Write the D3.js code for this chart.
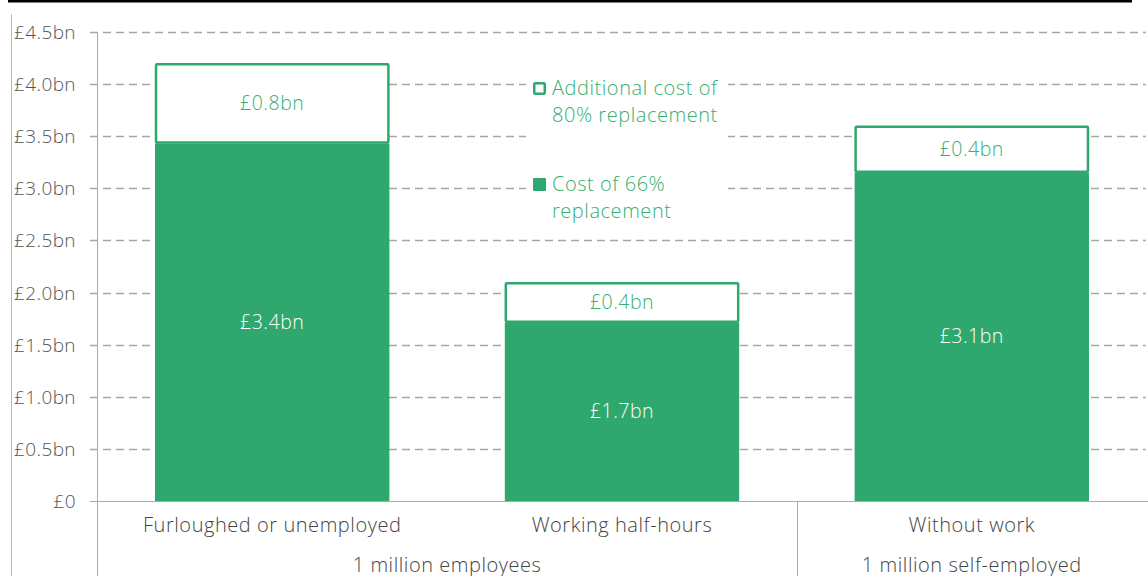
<!DOCTYPE html>
<html><head><meta charset="utf-8">
<script src="https://cdn.jsdelivr.net/npm/d3@7"></script>
<style>body{margin:0;background:#fff}svg{display:block}text{font-family:"Open Sans",Roboto,sans-serif;font-weight:300}</style>
</head><body><svg id="c" width="1148" height="576"></svg>
<script>
const categories = ["Furloughed or unemployed","Working half-hours","Without work"];
const groups = [{name:"1 million employees", cats:[0,1]},{name:"1 million self-employed", cats:[2]}];
const base66 = [3.44, 1.72, 3.16];
const extra80 = [0.76, 0.38, 0.44];
const baseLabels = ["£3.4bn","£1.7bn","£3.1bn"];
const extraLabels = ["£0.8bn","£0.4bn","£0.4bn"];
const yTicks = [0,0.5,1,1.5,2,2.5,3,3.5,4,4.5];
const yTickLabels = ["£0","£0.5bn","£1.0bn","£1.5bn","£2.0bn","£2.5bn","£3.0bn","£3.5bn","£4.0bn","£4.5bn"];
const legendItems = [{lines:["Additional cost of","80% replacement"], filled:false},{lines:["Cost of 66%","replacement"], filled:true}];

const green = "#2ea86f", textGreen = "#3aae72", grey = "#555";
const svg = d3.select("#c");
const x0 = 97, x1 = 1148, yTop = 32, yBot = 501;
const y = d3.scaleLinear().domain([0,4.5]).range([yBot,yTop]);
const x = d3.scaleBand().domain(d3.range(categories.length)).range([x0+1, x1-2]).paddingInner(0.33).paddingOuter(0.163);

// frame
svg.append("line").attr("x1",8).attr("x2",1132).attr("y1",1).attr("y2",1).attr("stroke","#000").attr("stroke-width",3);
svg.append("line").attr("x1",11.5).attr("x2",11.5).attr("y1",14).attr("y2",576).attr("stroke","#bbb").attr("stroke-width",1);

// grid
svg.append("g").selectAll("line").data(yTicks.slice(1)).join("line")
  .attr("x1",90).attr("x2",1146).attr("y1",d=>Math.round(y(d))+0.5).attr("y2",d=>Math.round(y(d))+0.5)
  .attr("stroke","#a6a6a6").attr("stroke-width",1.3).attr("stroke-dasharray","8,5");

// legend background
svg.append("rect").attr("x",526).attr("y",70).attr("width",202).attr("height",160).attr("fill","#fff");

// axis
const ya = d3.axisLeft(y).tickValues(yTicks).tickFormat((d,i)=>yTickLabels[i]).tickSize(0).tickPadding(21);
const ag = svg.append("g").attr("transform",`translate(${x0},0)`).call(ya);
ag.select(".domain").remove();
ag.selectAll("text").attr("fill",grey).style("font-size","19px").style("letter-spacing","0.4px").attr("dy","0.34em");
svg.append("line").attr("x1",x0+0.5).attr("x2",x0+0.5).attr("y1",yTop).attr("y2",576).attr("stroke","#aaa");
svg.append("line").attr("x1",90).attr("x2",x1).attr("y1",yBot+0.5).attr("y2",yBot+0.5).attr("stroke","#aaa");

// bars
const bars = svg.append("g");
categories.forEach((c,i)=>{
  const bx = x(i), bw = x.bandwidth();
  const tot = base66[i]+extra80[i];
  bars.append("rect").attr("x",bx+1).attr("y",y(tot)+1).attr("width",bw-2).attr("height",y(base66[i])-y(tot)-1)
    .attr("fill","#fff").attr("stroke",green).attr("stroke-width",2.5).attr("rx",1);
  bars.append("rect").attr("x",bx).attr("y",y(base66[i])+1).attr("width",bw).attr("height",yBot-y(base66[i])-1).attr("fill",green);
  bars.append("text").attr("x",bx+bw/2).attr("y",(y(tot)+y(base66[i]))/2).attr("dy","0.35em").attr("text-anchor","middle")
    .attr("fill",textGreen).style("font-size","19.5px").style("letter-spacing","0.5px").text(extraLabels[i]);
  bars.append("text").attr("x",bx+bw/2).attr("y",(y(base66[i])+yBot)/2).attr("dy","0.35em").attr("text-anchor","middle")
    .attr("fill","#fff").style("font-size","19.5px").style("letter-spacing","0.5px").text(baseLabels[i]);
  svg.append("text").attr("x",bx+bw/2).attr("y",532).attr("text-anchor","middle").attr("fill","#444")
    .style("font-size","20px").style("letter-spacing","0.55px").text(c);
});

// groups
const step = x.step();
groups.forEach((g,gi)=>{
  const first = g.cats[0], last = g.cats[g.cats.length-1];
  const cx = (x(first)+x(last)+x.bandwidth())/2;
  svg.append("text").attr("x",cx).attr("y",572).attr("text-anchor","middle").attr("fill","#444")
    .style("font-size","20px").style("letter-spacing","0.55px").text(g.name);
  if(gi>0){
    const dx = Math.round(x(first) - (step - x.bandwidth())/2)+0.5;
    svg.append("line").attr("x1",dx).attr("x2",dx).attr("y1",yBot).attr("y2",576).attr("stroke","#aaa");
  }
});

// legend
const lg = svg.append("g");
legendItems.forEach((it,i)=>{
  const ty = 95 + i*96;
  if(it.filled) lg.append("rect").attr("x",533).attr("y",ty-13).attr("width",13).attr("height",13).attr("fill",green).attr("rx",1);
  else lg.append("rect").attr("x",534.25).attr("y",ty-11.75).attr("width",10.5).attr("height",10.5).attr("fill","#fff").attr("stroke",green).attr("stroke-width",2.5).attr("rx",1);
  it.lines.forEach((l,j)=>{
    lg.append("text").attr("x",552).attr("y",ty+j*27).attr("fill",textGreen)
      .style("font-size","20px").style("letter-spacing","0.55px").text(l);
  });
});
</script></body></html>
